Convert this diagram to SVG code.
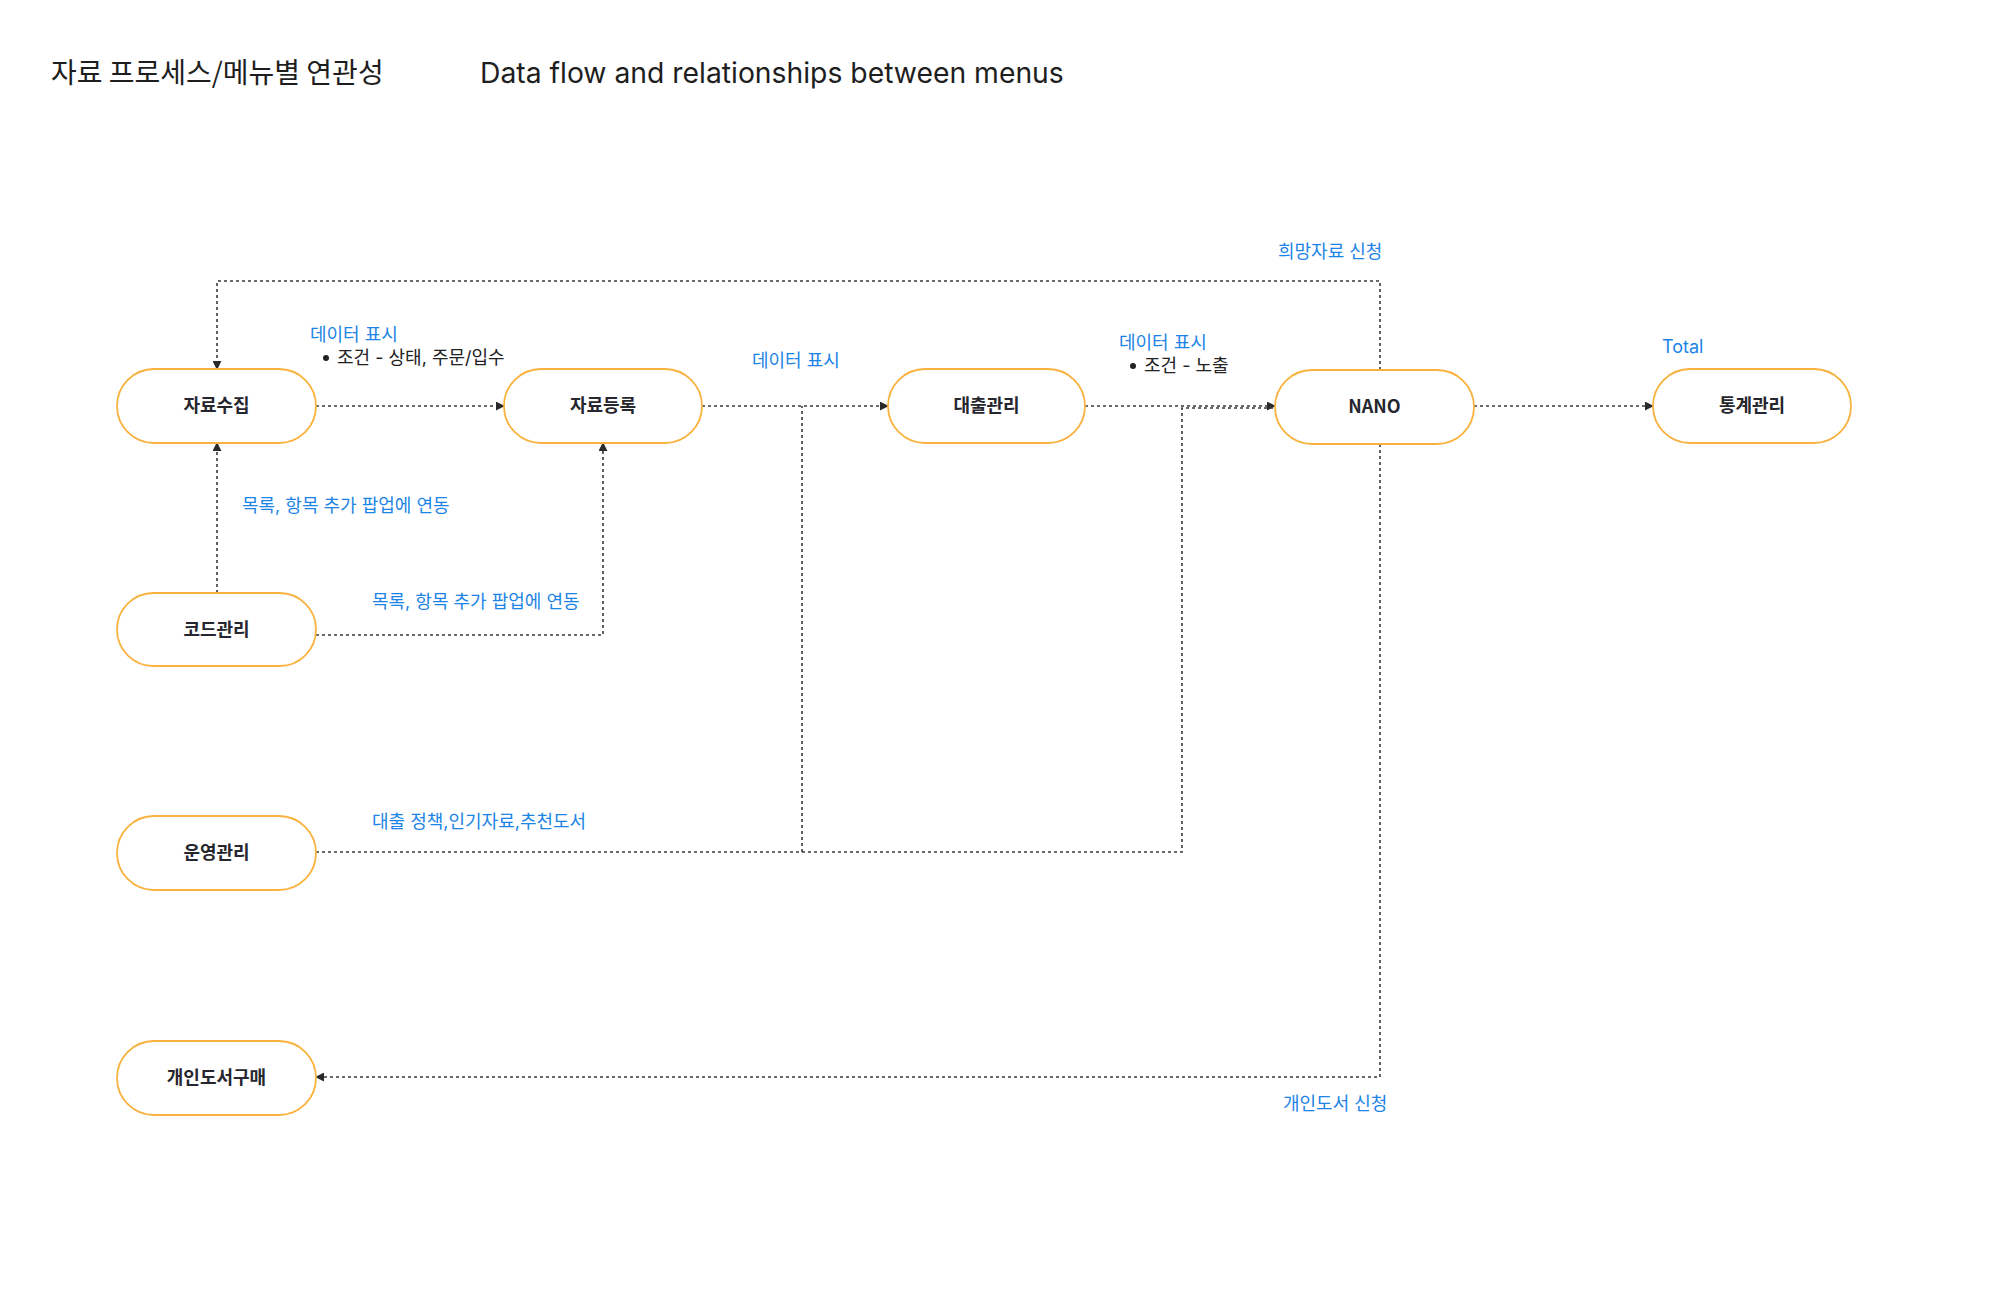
<svg xmlns="http://www.w3.org/2000/svg" width="2000" height="1289" viewBox="0 0 2000 1289">
<style>
.node rect{fill:#fff;stroke:#F9B23E;stroke-width:1.8}
.node text{font-family:"Noto Sans CJK KR","Noto Sans",sans-serif;font-size:18px;font-weight:700;fill:#26262e;text-anchor:middle}
.c{fill:none;stroke:#3a3a3a;stroke-width:1.6;stroke-dasharray:3 3}
.lbl{font-family:Inter,"Noto Sans CJK KR",sans-serif;font-size:18px;fill:#1C84E6}
.note{font-family:Inter,"Noto Sans CJK KR",sans-serif;font-size:18px;fill:#222}
.title{font-family:Inter,"Noto Sans CJK KR",sans-serif;font-size:28.3px;fill:#1e1e1e}
</style>
<defs>
<marker id="arr" viewBox="0 0 10 10" refX="9" refY="5" markerWidth="9" markerHeight="9" markerUnits="userSpaceOnUse" orient="auto">
<path d="M0,0 L10,5 L0,10 z" fill="#2a2a2a"/>
</marker>
</defs>
<rect width="2000" height="1289" fill="#fff"/>
<text class="title" x="51" y="83" style="font-family:'Noto Sans CJK KR',sans-serif;font-size:28px">자료 프로세스/메뉴별 연관성</text>
<text class="title" x="480" y="83">Data flow and relationships between menus</text>

<g id="connectors">
<path class="c" d="M316,406 H504" marker-end="url(#arr)"/>
<path class="c" d="M702,406 H888" marker-end="url(#arr)"/>
<path class="c" d="M1085,406 H1275" marker-end="url(#arr)"/>
<path class="c" d="M1474,406 H1653" marker-end="url(#arr)"/>
<path class="c" d="M1380,370 V281 H217 V369" marker-end="url(#arr)"/>
<path class="c" d="M217,593 V443" marker-end="url(#arr)"/>
<path class="c" d="M316,635 H603 V443" marker-end="url(#arr)"/>
<path class="c" d="M316,852 H1182 V408 H1275"/>
<path class="c" d="M802,852 V406"/>
<path class="c" d="M1380,444 V1077 H316" marker-end="url(#arr)"/>
</g>

<g id="labels">
<text class="lbl" x="310" y="341">데이터 표시</text>
<circle cx="326" cy="358" r="3" fill="#222"/>
<text class="note" x="337" y="364">조건 - 상태, 주문/입수</text>
<text class="lbl" x="752" y="367">데이터 표시</text>
<text class="lbl" x="1119" y="349">데이터 표시</text>
<circle cx="1133" cy="366" r="3" fill="#222"/>
<text class="note" x="1144" y="372">조건 - 노출</text>
<text class="lbl" x="1278" y="258">희망자료 신청</text>
<text class="lbl" x="1662" y="353">Total</text>
<text class="lbl" x="242" y="512">목록, 항목 추가 팝업에 연동</text>
<text class="lbl" x="372" y="608">목록, 항목 추가 팝업에 연동</text>
<text class="lbl" x="372" y="828">대출 정책,인기자료,추천도서</text>
<text class="lbl" x="1283" y="1110">개인도서 신청</text>
</g>

<g id="node-jaryosujip" class="node"><rect x="117" y="369" width="199" height="74" rx="37"/><text x="216.5" y="412">자료수집</text></g>
<g id="node-jaryodeungrok" class="node"><rect x="504" y="369" width="198" height="74" rx="37"/><text x="603" y="412">자료등록</text></g>
<g id="node-daechul" class="node"><rect x="888" y="369" width="197" height="74" rx="37"/><text x="986.5" y="412">대출관리</text></g>
<g id="node-nano" class="node"><rect x="1275" y="370" width="199" height="74" rx="37"/><text x="1374.5" y="413">NANO</text></g>
<g id="node-tonggye" class="node"><rect x="1653" y="369" width="198" height="74" rx="37"/><text x="1752" y="412">통계관리</text></g>
<g id="node-code" class="node"><rect x="117" y="593" width="199" height="73" rx="36.5"/><text x="216.5" y="636">코드관리</text></g>
<g id="node-unyeong" class="node"><rect x="117" y="816" width="199" height="74" rx="37"/><text x="216.5" y="859">운영관리</text></g>
<g id="node-gaein" class="node"><rect x="117" y="1041" width="199" height="74" rx="37"/><text x="216.5" y="1084">개인도서구매</text></g>
</svg>
